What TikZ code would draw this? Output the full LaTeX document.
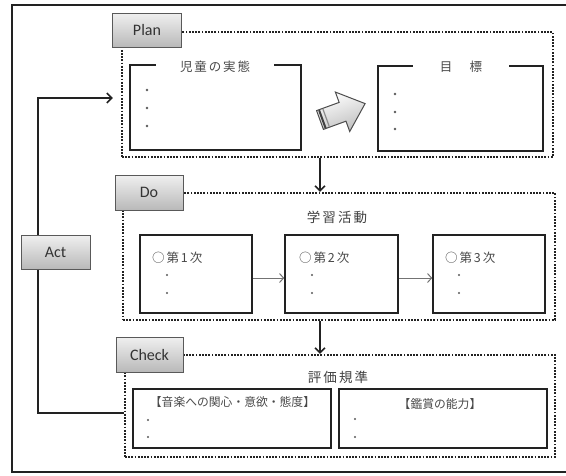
\documentclass[tikz,border=0pt]{standalone}
\usepackage{fontspec}
\newfontfamily\jp{Noto Sans CJK JP}
\newfontfamily\jps[LetterSpace=15]{Noto Sans CJK JP}
\newfontfamily\lat{Carlito}
\usetikzlibrary{arrows.meta,calc}
\definecolor{txt}{HTML}{484848}
\definecolor{frm}{HTML}{222222}
\begin{document}
\begin{tikzpicture}[x=1pt,y=-1pt,
  dotframe/.style={draw=frm, line width=2.3pt, dash pattern=on 1.8pt off 1.4pt, inner sep=0pt},
  solidbox/.style={draw=frm, line width=1.6pt, inner sep=0pt},
  tabbox/.style={draw=black!65, line width=0.9pt, top color=gray!12, bottom color=gray!55, inner sep=0pt, minimum width=69pt, minimum height=34pt, font=\lat\fontsize{16}{16}\selectfont, text=black!80},
  jtitle/.style={font=\jps\fontsize{12.5}{13}\selectfont, text=txt, inner sep=1pt},
  jbig/.style={font=\jps\fontsize{13.5}{14}\selectfont, text=black!75, inner sep=1pt},
  jstep/.style={font=\jps\fontsize{12.5}{13}\selectfont, text=txt, inner sep=0pt, anchor=west},
  jsmall/.style={font=\jp\fontsize{11.8}{12}\selectfont, text=txt, inner sep=0pt},
  arr/.style={draw=frm, line width=1.6pt, -{Straight Barb[length=5pt,width=10pt,line width=1.5pt]}},
  garr/.style={draw=black!55, line width=1pt, -{Straight Barb[length=4pt,width=9pt,line width=1pt]}},
  dotc/.style={fill=black!65}
]
\useasboundingbox (0,0) rectangle (566,475);
% outer frame
\draw[frm, line width=2pt] (570,5) -- (12,5) -- (12,472) -- (570,472);

% frames
\node[dotframe, minimum width=431pt, minimum height=125pt] (plan) at (337.5,94.5) {};
\node[dotframe, minimum width=432pt, minimum height=127pt] (do) at (339,256.5) {};
\node[dotframe, minimum width=430pt, minimum height=102pt] (check) at (340,406) {};

% Plan contents
\node[solidbox, minimum width=171pt, minimum height=85pt] (jidou) at (215.5,107.5) {};
\node[solidbox, minimum width=165pt, minimum height=85pt] (goal) at (460.5,108.5) {};
\node[jtitle, fill=white, minimum width=118pt] (jidout) at (215,67) {児童の実態};
\node[jtitle, fill=white, minimum width=96pt] (goalt) at (461,67) {目\hspace{1.4em}標};
\foreach \yy in {90,108,126} \fill[dotc] (147,\yy) circle (1.3pt);
\foreach \yy in {94,112,129} \fill[dotc] (395,\yy) circle (1.3pt);

% big block arrow
\begin{scope}[shift={(320,120)}, rotate=20]
  \path[top color=white, bottom color=gray!50, shading angle=20, draw=black!70, line width=1pt]
    (0,-10) -- (24,-10) -- (24,-21) -- (48,0) -- (24,21) -- (24,10) -- (0,10) -- cycle;
  \draw[black!75, line width=2pt] (2.5,-9.5) -- (2.5,9.5);
  \draw[black!45, line width=1.2pt] (6.5,-9.5) -- (6.5,9.5);
\end{scope}

% Do contents
\node[jbig] (gakushu) at (337,217) {学習活動};
\node[solidbox, minimum width=112pt, minimum height=78pt] (s1) at (196,274) {};
\node[solidbox, minimum width=113pt, minimum height=78pt] (s2) at (341.5,274) {};
\node[solidbox, minimum width=112pt, minimum height=78pt] (s3) at (489,274) {};
\node[jstep] (s1t) at (152,258) {○第1次};
\node[jstep] (s2t) at (299,258) {○第2次};
\node[jstep] (s3t) at (445,258) {○第3次};
\foreach \yy in {275,293} {\fill[dotc] (167,\yy) circle (1.2pt); \fill[dotc] (312,\yy) circle (1.2pt); \fill[dotc] (459,\yy) circle (1.2pt);}
\draw[garr] ([yshift=-4pt]s1.east) -- ([yshift=-4pt]s2.west);
\draw[garr] ([yshift=-4pt]s2.east) -- ([yshift=-4pt]s3.west);

% Check contents
\node[jbig] (hyoka) at (338,377) {評価規準};
\node[solidbox, minimum width=198pt, minimum height=59pt] (c1) at (232,418.5) {};
\node[solidbox, minimum width=208pt, minimum height=59pt] (c2) at (443,418.5) {};
\node[jsmall] (c1t) at (232.5,402) {【音楽への関心・意欲・態度】};
\node[jsmall] (c2t) at (440,404) {【鑑賞の能力】};
\foreach \yy in {420,437} \fill[dotc] (148,\yy) circle (1.2pt);
\foreach \yy in {419,437} \fill[dotc] (355,\yy) circle (1.2pt);

% vertical arrows
\coordinate (vx) at (320,0);
\draw[arr] (plan.south -| vx) -- (do.north -| vx);
\draw[arr] (do.south -| vx) -- (check.north -| vx);

% Act loop
\coordinate (loopx) at (38,0);
\coordinate (lb) at ([yshift=-7pt]check.west);
\coordinate (lt) at ([yshift=-3.5pt]plan.west);
\draw[arr, shorten >=8pt] (lb) -- (lb -| loopx) -- (lt -| loopx) -- (lt);

% tabs
\node[tabbox] (plantab) at (147,30) {Plan};
\node[tabbox, minimum width=68pt, minimum height=35pt] (dotab) at (149,192.5) {Do};
\node[tabbox, minimum width=67pt, minimum height=35pt] (checktab) at (149.5,354.5) {Check};
\node[tabbox] (acttab) at (55.5,252) {Act};
\end{tikzpicture}
\end{document}
